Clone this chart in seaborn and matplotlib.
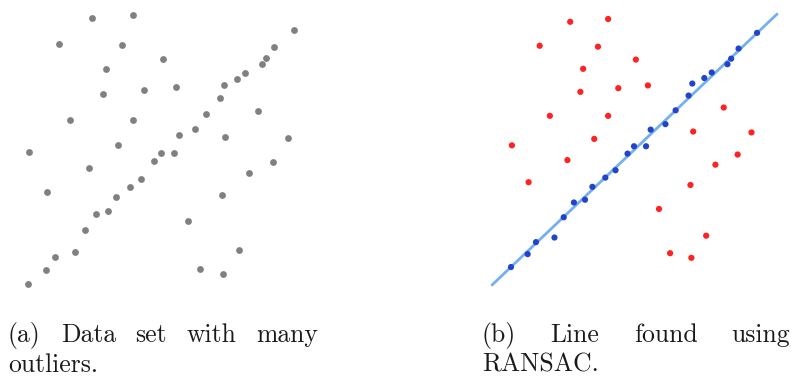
import matplotlib
matplotlib.use("Agg")
import matplotlib.pyplot as plt
import seaborn as sns
import pandas as pd

# data (arbitrary units)
xs = [7.2, 11.3, 3.9, 10.2, 8.6, 8.3, 12.4, 5.0, 11.3, 9.8, 0.9,
      27.4, 25.4, 24.6, 24.2, 14.3, 22.5, 21.7, 20.4, 15.6, 20.0,
      23.8, 18.6, 17.5, 15.9, 20.5, 26.8, 6.9, 13.4, 14.1, 15.4,
      2.7, 12.1, 11.0, 9.6, 7.6, 8.8, 6.5, 5.5, 3.5, 2.6, 0.8,
      25.3, 22.9, 20.2, 16.8, 21.9, 18.0, 20.3]
ys = [27.7, 28.0, 25.1, 25.0, 22.6, 20.1, 20.5, 17.5, 17.5, 15.0, 14.3,
      26.5, 24.8, 23.7, 23.1, 23.6, 22.2, 21.6, 21.0, 20.8, 19.7,
      18.4, 18.1, 16.6, 16.0, 15.8, 15.7, 12.7, 13.4, 14.2, 14.2,
      10.3, 11.6, 10.8, 9.8, 8.1, 8.4, 6.5, 4.3, 3.8, 2.5, 1.1,
      13.3, 12.2, 10.0, 7.4, 4.5, 2.6, 2.1]
labels = ["outlier"] * 11 + ["inlier"] * 4 + ["outlier"] + ["inlier"] * 3 + \
         ["outlier", "inlier", "outlier", "inlier", "inlier", "inlier",
          "outlier", "outlier", "outlier"] + ["inlier"] * 3 + ["outlier"] + \
         ["inlier"] * 10 + ["outlier"] * 7
line_x = [-1.25, 29.56]
line_y = [-0.85, 28.54]

caption_a = [["(a)", "Data", "set", "with", "many"], ["outliers."]]
caption_b = [["(b)", "Line", "found", "using"], ["RANSAC."]]

df = pd.DataFrame({"x": xs, "y": ys, "label": labels})
line_df = pd.DataFrame({"x": line_x, "y": line_y})

sns.set_theme(style="white")
plt.rcParams["font.family"] = ["cmr10", "DejaVu Serif"]

W, H = 795, 376
fig = plt.figure(figsize=(W / 100, H / 100), dpi=100)

def px_axes(left, top, width, height):
    return fig.add_axes([left / W, 1 - (top + height) / H, width / W, height / H])

# left panel
ax1 = px_axes(0, 0, 320, 300)
sns.scatterplot(data=df, x="x", y="y", color="#808080", s=24, linewidth=0,
                ax=ax1, legend=False)
ax1.set_xlim(-2, 30)
ax1.set_ylim(-0.5, 29.5)
ax1.axis("off")

# right panel
ax2 = px_axes(485.1, 5.2, 296.0, 285.8)
sns.lineplot(data=line_df, x="x", y="y", color="#74b0f0", linewidth=2.0,
             ax=ax2, legend=False, zorder=1)
for l in ax2.lines:
    l.set_clip_on(False)
sns.scatterplot(data=df, x="x", y="y", hue="label",
                palette={"outlier": "#ff2222", "inlier": "#2244cc"},
                s=20, linewidth=0, ax=ax2, legend=False, zorder=2)
ax2.set_xlim(-2, 30)
ax2.set_ylim(-1.5, 29.5)
ax2.axis("off")

fs = 18.5
def put(word, x, base, ha):
    fig.text(x / W, 1 - base / H, word, ha=ha, va="baseline", fontsize=fs,
             color="#1a1a1a")

# caption (a), justified first line
line1 = caption_a[0]
put(line1[0], 8, 342, "left")
put(line1[1], 89, 342, "center")
put(line1[2], 150.5, 342, "center")
put(line1[3], 212, 342, "center")
put(line1[4], 318, 342, "right")
put(caption_a[1][0], 8, 372, "left")

line1 = caption_b[0]
put(line1[0], 482, 342, "left")
put(line1[1], 575, 342, "center")
put(line1[2], 665.5, 342, "center")
put(line1[3], 790, 342, "right")
put(caption_b[1][0], 482, 372, "left")

fig.savefig("out.png", dpi=100)
